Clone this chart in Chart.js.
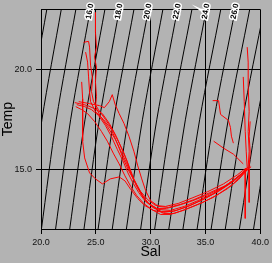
<!DOCTYPE html>
<html>
<head>
<meta charset="utf-8">
<script src="https://cdn.jsdelivr.net/npm/chart.js@4.4.0/dist/chart.umd.min.js"></script>
<style>
  body { margin: 0; background: #b3b3b3; }
  #wrap { width: 272px; height: 263px; }
</style>
</head>
<body>
<div id="wrap"><canvas id="ts-chart" width="272" height="263"></canvas></div>
<script>
// Axis ticks
const salTicks = [20, 25, 30, 35, 40];
const tempTicks = [15, 20];

// Isopycnals (sigma-t): salinity where each one crosses T = 12, 17.5 and 23
const sigmaLevels = [13, 14, 15, 16, 17, 18, 19, 20, 21, 22, 23, 24, 25, 26, 27, 28, 29, 30];
const isoTemps = [12, 17.5, 23];
const isoSalAt12 = [17.45, 18.74, 20.04, 21.33, 22.62, 23.92, 25.21, 26.50, 27.79, 29.09, 30.37, 31.66, 32.95, 34.24, 35.52, 36.81, 38.10, 39.39];
const isoSalAt17 = [18.78, 20.09, 21.40, 22.71, 24.02, 25.33, 26.64, 27.95, 29.26, 30.57, 31.87, 33.18, 34.48, 35.78, 37.09, 38.39, 39.70, 41.00];
const isoSalAt23 = [20.53, 21.85, 23.18, 24.50, 25.83, 27.15, 28.48, 29.80, 31.12, 32.45, 33.77, 35.08, 36.40, 37.72, 39.04, 40.35, 41.67, 42.99];
const labelledSigmas = [16, 18, 20, 22, 24, 26];
const labelTemp = 22.9;

// Casts (salinity / temperature pairs)
const cast1Sal = [24.97, 24.97, 25.06, 24.88, 25.06, 24.97, 25.06, 24.97, 25.42, 26.05, 26.77, 27.30, 27.84, 28.29, 28.74, 29.28, 29.82, 30.54, 31.44, 32.52, 33.86, 35.21, 36.56, 37.73, 38.54, 38.90, 38.99, 38.90, 38.99, 38.90, 38.90, 38.81];
const cast1Temp = [22.84, 21.85, 21.11, 20.61, 20.11, 19.37, 18.63, 18.13, 17.64, 17.14, 16.50, 15.90, 15.26, 14.66, 14.12, 13.62, 13.28, 13.03, 13.03, 13.18, 13.42, 13.72, 14.07, 14.51, 14.90, 15.11, 15.90, 16.89, 17.88, 19.12, 20.36, 21.11];
const cast2Sal = [23.89, 24.34, 24.43, 24.52, 24.70, 24.61, 24.79, 25.24, 25.87, 26.50, 27.04, 27.57, 28.02, 28.47, 29.01, 29.55, 30.18, 30.99, 32.07, 33.41, 34.76, 36.11, 37.46, 38.36, 38.81, 38.72, 38.63, 38.54, 38.45];
const cast2Temp = [21.35, 21.40, 21.11, 20.21, 19.52, 18.88, 18.38, 17.98, 17.49, 16.99, 16.40, 15.80, 15.16, 14.51, 13.92, 13.42, 13.08, 12.88, 12.88, 13.13, 13.47, 13.87, 14.37, 14.81, 15.06, 15.90, 16.89, 18.38, 19.62];
const cast3Sal = [23.71, 23.80, 23.80, 23.80, 23.98, 24.43, 24.97, 25.60, 26.32, 27.13, 27.66, 28.20, 28.83, 29.46, 30.27, 31.17, 32.34, 33.59, 34.94, 36.29, 37.64, 38.63, 38.99, 38.99, 38.99];
const cast3Temp = [19.37, 18.53, 17.39, 16.40, 15.56, 14.81, 14.51, 14.26, 14.51, 14.61, 14.41, 13.97, 13.52, 13.18, 12.93, 12.83, 12.93, 13.18, 13.52, 13.92, 14.41, 14.90, 15.01, 14.17, 13.33];
const cast4Sal = [23.08, 23.53, 24.25, 24.88, 25.60, 26.23, 26.86, 27.39, 27.84, 28.20, 28.65, 29.19, 29.82, 30.72, 31.80, 33.06, 34.31, 35.66, 37.01, 38.18, 38.63, 38.63, 38.63];
const cast4Temp = [18.33, 18.28, 18.18, 18.03, 17.78, 17.29, 16.65, 16.00, 15.41, 14.81, 14.26, 13.72, 13.28, 12.98, 12.93, 13.13, 13.42, 13.77, 14.22, 14.71, 14.96, 13.92, 12.53];
const cast5Sal = [23.26, 23.98, 24.61, 25.24, 25.87, 26.41, 26.95, 27.48, 27.93, 28.38, 28.92, 29.55, 30.27, 31.17, 32.16, 33.41, 34.76, 36.11, 37.46, 38.45, 38.99, 39.08, 38.99, 39.08];
const cast5Temp = [18.23, 18.13, 17.98, 17.69, 17.19, 16.65, 16.00, 15.41, 14.81, 14.32, 13.82, 13.37, 13.08, 12.78, 12.78, 13.03, 13.33, 13.72, 14.22, 14.76, 15.06, 15.90, 16.65, 17.39];
const cast6Sal = [23.44, 24.43, 25.33, 25.78, 26.23, 26.50, 26.77, 27.13, 27.57, 28.02, 28.47, 28.83, 29.19, 29.55, 30.00, 30.72, 31.62, 32.70, 33.95, 35.39, 36.83, 38.09, 38.81, 39.17];
const cast6Temp = [18.38, 18.28, 18.18, 18.08, 18.38, 18.73, 18.23, 17.78, 17.29, 16.65, 15.90, 15.16, 14.51, 13.92, 13.42, 13.13, 13.08, 13.23, 13.47, 13.82, 14.17, 14.66, 15.01, 15.11];
const cast7Sal = [23.17, 23.71, 24.25, 24.88, 25.51, 26.05, 26.59, 27.13, 27.66, 28.20, 28.74, 29.37, 30.09, 30.90, 31.80, 32.97, 34.31, 35.66, 37.01, 38.00, 38.72, 39.08];
const cast7Temp = [18.13, 17.98, 17.78, 17.39, 16.89, 16.40, 15.80, 15.26, 14.66, 14.12, 13.67, 13.28, 12.98, 12.73, 12.73, 12.93, 13.23, 13.57, 14.02, 14.46, 14.90, 15.16];
const cast8Sal = [24.07, 24.25, 24.34, 24.43, 24.52, 24.97, 25.69, 26.41, 26.95, 27.48, 28.02, 28.56, 29.10, 29.73, 30.45, 31.35, 32.52, 33.86, 35.21, 36.65, 37.91, 38.72];
const cast8Temp = [20.86, 20.36, 19.62, 18.88, 18.38, 17.88, 17.49, 16.99, 16.30, 15.56, 14.90, 14.37, 13.87, 13.47, 13.18, 13.13, 13.28, 13.57, 13.87, 14.26, 14.71, 15.06];
const cast9Sal = [35.66, 36.20, 36.38, 37.10, 37.28, 37.37, 37.55];
const cast9Temp = [18.43, 18.43, 17.74, 17.44, 17.09, 16.65, 16.30];
const cast10Sal = [35.75, 36.65, 37.55, 38.45];
const cast10Temp = [16.40, 16.05, 15.75, 15.26];

Chart.defaults.font.family = '"Liberation Sans", Arial, sans-serif';

const casts = [
    [cast1Sal, cast1Temp], [cast2Sal, cast2Temp], [cast3Sal, cast3Temp], [cast4Sal, cast4Temp],
    [cast5Sal, cast5Temp], [cast6Sal, cast6Temp], [cast7Sal, cast7Temp], [cast8Sal, cast8Temp],
    [cast9Sal, cast9Temp], [cast10Sal, cast10Temp]
];

const datasets = [];

// red T-S profiles, on top
casts.forEach(function(c, i) {
    datasets.push({
        label: 'cast ' + (i + 1),
        data: c[0].map((s, j) => ({ x: s, y: c[1][j] })),
        showLine: true,
        borderColor: '#ff0000',
        borderWidth: 1,
        pointRadius: 0,
        tension: 0,
        order: 0
    });
});

// black density contours
sigmaLevels.forEach(function(sig, i) {
    const sals = [isoSalAt12[i], isoSalAt17[i], isoSalAt23[i]];
    datasets.push({
        label: 'sigma ' + sig,
        data: sals.map((s, j) => ({ x: s, y: isoTemps[j] })),
        showLine: true,
        borderColor: '#000000',
        borderWidth: 1,
        pointRadius: 0,
        tension: 0.3,
        clip: 0,
        order: 1
    });
});

// top frame line and contour labels
const isoLabels = {
    id: 'isoLabels',
    afterDraw(chart) {
        const { ctx, chartArea } = chart;
        const xs = chart.scales.x, ys = chart.scales.y;
        ctx.save();
        ctx.strokeStyle = '#000';
        ctx.lineWidth = 1;
        ctx.beginPath();
        const top = Math.round(chartArea.top) + 0.5;
        ctx.moveTo(chartArea.left, top);
        ctx.lineTo(chartArea.right, top);
        ctx.stroke();

        ctx.font = 'bold 8px "Liberation Sans", Arial, sans-serif';
        ctx.textAlign = 'center';
        ctx.textBaseline = 'middle';
        labelledSigmas.forEach(function(sig) {
            const i = sigmaLevels.indexOf(sig);
            const x0 = xs.getPixelForValue(isoSalAt17[i]), y0 = ys.getPixelForValue(isoTemps[1]);
            const x1 = xs.getPixelForValue(isoSalAt23[i]), y1 = ys.getPixelForValue(isoTemps[2]);
            const ang = Math.atan2(y1 - y0, x1 - x0);
            const ly = ys.getPixelForValue(labelTemp);
            const lx = x1 + (x1 - x0) * (ly - y1) / (y1 - y0);
            ctx.save();
            ctx.translate(lx, ly);
            ctx.rotate(ang);
            ctx.lineWidth = 3;
            ctx.strokeStyle = '#ffffff';
            ctx.strokeText(sig.toFixed(1), 0, 0);
            ctx.fillStyle = '#000';
            ctx.fillText(sig.toFixed(1), 0, 0);
            ctx.restore();
        });
        ctx.restore();
    }
};

const ctx = document.getElementById('ts-chart').getContext('2d');
const tsChart = new Chart(ctx, {
    type: 'scatter',
    data: { datasets: datasets },
    plugins: [isoLabels],
    options: {
        responsive: false,
        animation: false,
        layout: { padding: { top: 7, right: 9, left: 0, bottom: 0 } },
        plugins: {
            legend: { display: false },
            tooltip: { enabled: false }
        },
        scales: {
            x: {
                type: 'linear',
                min: 20,
                max: 40,
                afterBuildTicks: s => { s.ticks = salTicks.map(v => ({ value: v })); },
                afterFit: s => { s.height = 34; },
                ticks: {
                    callback: v => Number(v).toFixed(1),
                    font: { size: 9 },
                    color: '#111',
                    padding: 3,
                    maxRotation: 0
                },
                grid: { color: '#000', lineWidth: 1, tickLength: 5 },
                border: { color: '#000' },
                title: {
                    display: true,
                    text: 'Sal',
                    font: { size: 14 },
                    color: '#000',
                    padding: { top: 0, bottom: 2 }
                }
            },
            y: {
                type: 'linear',
                min: 12,
                max: 23,
                afterBuildTicks: s => { s.ticks = tempTicks.map(v => ({ value: v })); },
                afterFit: s => { s.width = 41; },
                ticks: {
                    callback: v => Number(v).toFixed(1),
                    font: { size: 9 },
                    color: '#111',
                    padding: 4
                },
                grid: { color: '#000', lineWidth: 1, tickLength: 5 },
                border: { color: '#000' },
                title: {
                    display: true,
                    text: 'Temp',
                    font: { size: 14 },
                    color: '#000',
                    padding: { top: 0, bottom: 0 }
                }
            }
        }
    }
});
</script>
</body>
</html>
